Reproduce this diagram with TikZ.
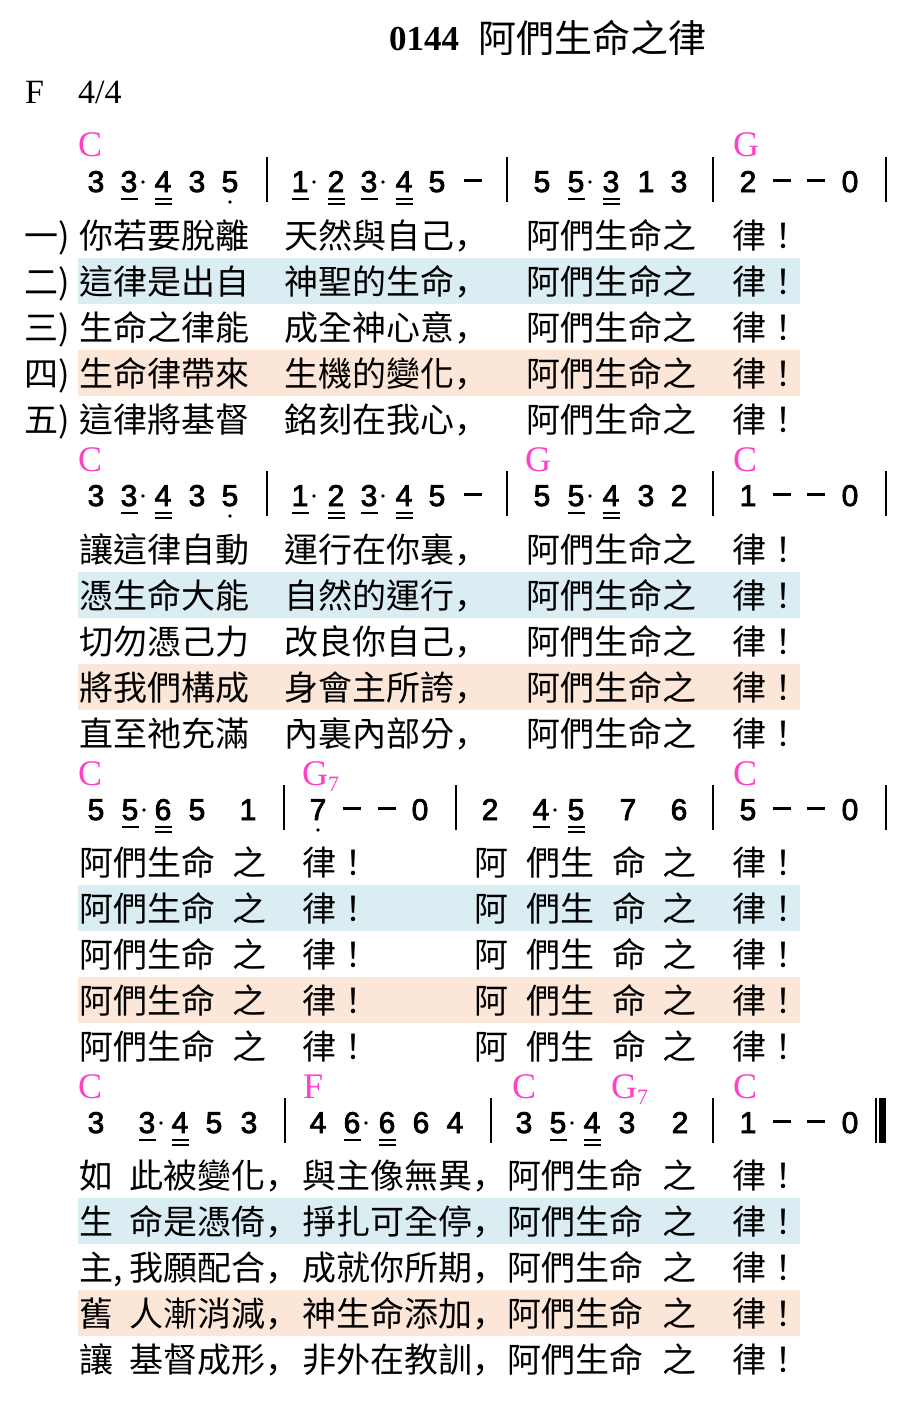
\documentclass[tikz,border=0pt]{standalone}
\usepackage{fontspec}
\setmainfont{Liberation Serif}
\newfontfamily\cjk{Noto Sans CJK TC}
\newfontfamily\cjkjp{Noto Sans CJK JP}
\newfontfamily\numfont[FakeBold=2.6]{Liberation Sans}
\newcommand\cm{{\cjkjp ，}}
\definecolor{chordpink}{RGB}{255,64,200}
\definecolor{bandblue}{RGB}{218,237,243}
\definecolor{bandorange}{RGB}{252,230,216}
\tikzset{
  note/.style={font=\numfont\fontsize{30}{30}\selectfont, inner sep=0pt, anchor=base},
  chord/.style={font=\fontsize{36}{36}\selectfont, text=chordpink, inner sep=0pt, anchor=base west},
  lyr/.style={font=\cjk\fontsize{34}{34}\selectfont, inner sep=0pt, anchor=base west},
  barline/.style={line width=1.5pt},
  ulin/.style={line width=1.8pt},
  dashmark/.style={line width=3pt}
}
% #1 id, #2 baseline, #3 notes, #4 single ul (+aug dot), #5 double ul, #6 low dots, #7 dashes, #8 bars
\newcommand\jpRow[8]{%
  \foreach \x/\d [count=\i] in {#3} {\node[note] (#1n\i) at (\x,#2) {\d};}
  \foreach \x in {#4} {\draw[ulin] (\x-8.5,#2+7) -- (\x+8.5,#2+7);
                       \fill (\x+14,#2-10) circle (1.8pt);}
  \foreach \x in {#5} {\draw[ulin] (\x-8.5,#2+7) -- (\x+8.5,#2+7);
                       \draw[ulin] (\x-8.5,#2+12) -- (\x+8.5,#2+12);}
  \if\relax\detokenize{#6}\relax\else
    \foreach \x in {#6} {\fill (\x,#2+10) circle (1.9pt);}
  \fi
  \foreach \x in {#7} {\draw[dashmark] (\x-9,#2-12) -- (\x+9,#2-12);}
  \foreach \x in {#8} {\draw[barline] (\x,#2-35) -- (\x,#2+10);}
}
\begin{document}
\begin{tikzpicture}[x=1pt,y=-1pt]
\useasboundingbox (0,0) rectangle (904,1418);
\fill[white] (0,0) rectangle (904,1418);

% bands
\foreach \c in {235,549,862,1175} {
  \fill[bandblue] (78,\c+46-23) rectangle (800,\c+46+23);
  \fill[bandorange] (78,\c+138-23) rectangle (800,\c+138+23);
}

% title
\node[inner sep=0pt, anchor=base west, font=\bfseries\fontsize{35}{35}\selectfont] (num) at (389,51) {0144};
\node[inner sep=0pt, anchor=base west, font=\cjk\fontsize{38}{38}\selectfont] (title) at (478,53) {阿們生命之律};
\node[inner sep=0pt, anchor=base west, font=\fontsize{34}{34}\selectfont] (key) at (25,104) {F};
\node[inner sep=0pt, anchor=base west, font=\fontsize{34}{34}\selectfont] (meter) at (78,104) {4/4};

% chords
\node[chord] (c1a) at (78,157) {C};
\node[chord] (c1b) at (733,157) {G};
\node[chord] (c2a) at (78,471) {C};
\node[chord] (c2b) at (525,471) {G};
\node[chord] (c2c) at (733,471) {C};
\node[chord] (c3a) at (78,785) {C};
\node[chord] (c3b) at (302,785) {G\raisebox{-6pt}{\fontsize{22}{22}\selectfont 7}};
\node[chord] (c3c) at (733,785) {C};
\node[chord] (c4a) at (78,1098) {C};
\node[chord] (c4b) at (303,1098) {F};
\node[chord] (c4c) at (512,1098) {C};
\node[chord] (c4d) at (611,1098) {G\raisebox{-6pt}{\fontsize{22}{22}\selectfont 7}};
\node[chord] (c4e) at (733,1098) {C};

% notes
\jpRow{ra}{192}{96/3,129/3,163/4,197/3,230/5,300/1,336/2,369/3,404/4,437/5,542/5,576/5,611/3,646/1,679/3,748/2,850/0}
  {129,300,369,576}{163,336,404,611}{230}{473,782,816}{267,507,713,886}
\jpRow{rb}{506}{96/3,129/3,163/4,197/3,230/5,300/1,336/2,369/3,404/4,437/5,542/5,576/5,611/4,646/3,679/2,748/1,850/0}
  {129,300,369,576}{163,336,404,611}{230}{473,782,816}{267,507,713,886}
\jpRow{rc}{820}{96/5,130/5,163/6,197/5,248/1,318/7,420/0,490/2,541/4,576/5,628/7,679/6,748/5,850/0}
  {130,541}{163,576}{318}{352,387,782,816}{284,456,713,886}
\jpRow{rd}{1133}{96/3,147/3,180/4,214/5,249/3,318/4,352/6,387/6,421/6,455/4,524/3,558/5,592/4,627/3,680/2,748/1,850/0}
  {147,352,558}{180,387,592}{}{782,816}{285,491,713,876}
\draw[line width=6.5pt] (882.5,1098) -- (882.5,1143);

% lyrics block 1
\foreach \lab/\a/\b [count=\v] in {一)/你若要脫離/天然與自己\cm, 二)/這律是出自/神聖的生命\cm, 三)/生命之律能/成全神心意\cm, 四)/生命律帶來/生機的變化\cm, 五)/這律將基督/銘刻在我心\cm} {
  \pgfmathsetmacro\yy{248+46*(\v-1)}
  \node[lyr] (aL\v) at (24,\yy) {\lab};
  \node[lyr] (aA\v) at (79,\yy) {\a};
  \node[lyr] (aB\v) at (284,\yy) {\b};
  \node[lyr] (aC\v) at (526,\yy) {阿們生命之};
  \node[lyr] (aD\v) at (732,\yy) {律！};
}
% lyrics block 2
\foreach \a/\b [count=\v] in {讓這律自動/運行在你裏\cm, 憑生命大能/自然的運行\cm, 切勿憑己力/改良你自己\cm, 將我們構成/身會主所誇\cm, 直至祂充滿/內裏內部分\cm} {
  \pgfmathsetmacro\yy{562+46*(\v-1)}
  \node[lyr] (bA\v) at (79,\yy) {\a};
  \node[lyr] (bB\v) at (284,\yy) {\b};
  \node[lyr] (bC\v) at (526,\yy) {阿們生命之};
  \node[lyr] (bD\v) at (732,\yy) {律！};
}
% lyrics block 3
\foreach \v in {1,...,5} {
  \pgfmathsetmacro\yy{875+46*(\v-1)}
  \node[lyr] (cA\v) at (79,\yy) {阿們生命};
  \node[lyr] (cB\v) at (232,\yy) {之};
  \node[lyr] (cC\v) at (302,\yy) {律！};
  \node[lyr] (cD\v) at (474,\yy) {阿};
  \node[lyr] (cE\v) at (526,\yy) {們生};
  \node[lyr] (cF\v) at (612,\yy) {命};
  \node[lyr] (cG\v) at (662,\yy) {之};
  \node[lyr] (cH\v) at (732,\yy) {律！};
}
% lyrics block 4
\foreach \f/\a/\b [count=\v] in {如/此被變化\cm/與主像無異\cm, 生/命是憑倚\cm/掙扎可全停\cm, {主,}/我願配合\cm/成就你所期\cm, 舊/人漸消減\cm/神生命添加\cm, 讓/基督成形\cm/非外在教訓\cm} {
  \pgfmathsetmacro\yy{1188+46*(\v-1)}
  \node[lyr] (dF\v) at (79,\yy) {\f};
  \node[lyr] (dA\v) at (129,\yy) {\a};
  \node[lyr] (dB\v) at (302,\yy) {\b};
  \node[lyr] (dC\v) at (507,\yy) {阿們生命};
  \node[lyr] (dD\v) at (662,\yy) {之};
  \node[lyr] (dE\v) at (732,\yy) {律！};
}
\end{tikzpicture}
\end{document}
